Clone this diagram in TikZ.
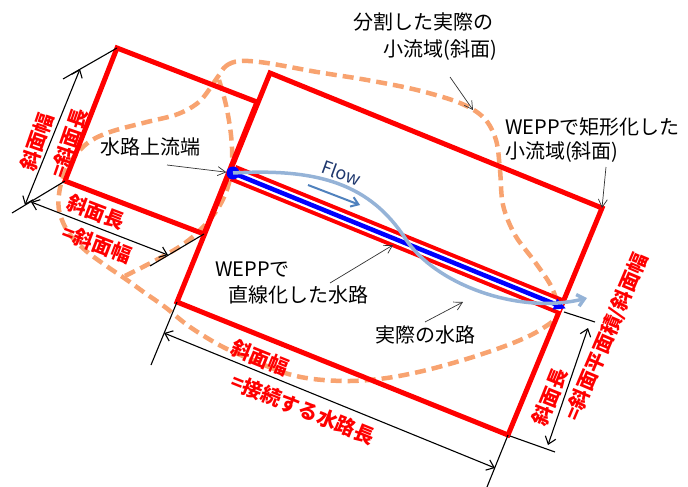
\documentclass[tikz,border=0pt]{standalone}
\usepackage{fontspec}
\setmainfont{Noto Sans CJK JP}
\usetikzlibrary{arrows.meta}
\definecolor{dashc}{RGB}{248,163,112}
\definecolor{curvec}{RGB}{149,179,215}
\definecolor{flowc}{RGB}{31,56,110}
\definecolor{flowar}{RGB}{79,129,189}
\definecolor{annc}{RGB}{50,50,50}
\begin{document}
\begin{tikzpicture}[x=1pt,y=-1pt,
  redbox/.style={draw=red,line width=5pt,line join=miter},
  dashline/.style={draw=dashc,line width=4.5pt,dash pattern=on 11pt off 6pt},
  dimline/.style={draw=black,line width=1.1pt},
  dimarrow/.style={dimline,{Straight Barb[length=7pt,width=11pt]}-{Straight Barb[length=7pt,width=11pt]}},
  annot/.style={draw=annc,line width=0.7pt,-{Straight Barb[length=8pt,width=9pt]}},
  lbl/.style={font=\fontsize{20}{22}\selectfont,inner sep=0pt},
  redlbl/.style={font=\fontsize{20}{22}\selectfont\bfseries,text=red,inner sep=0pt},
]
\useasboundingbox (0,0) rectangle (688,487);
% corners
\coordinate (A) at (270,73);
\coordinate (B) at (602,208);
\coordinate (C) at (508,435);
\coordinate (D) at (177,302);
\coordinate (P) at (117,48);
\coordinate (Q) at (257,102);
\coordinate (R) at (204,234);
\coordinate (T) at (65,181);
% dashed actual subwatershed
\draw[dashline] plot[smooth cycle, tension=0.55] coordinates {(217,78) (226,66) (240,61) (267,63) (317,72) (367,80) (417,90) (460,103) (484,118) (496,140) (500,170) (503,205) (515,235) (535,262) (552,288) (558,314) (540,330) (513,343) (473,357) (427,370) (387,378) (350,381) (313,379) (285,373) (255,361) (223,347) (190,327) (165,307) (145,293) (127,280) (105,265) (85,250) (68,232) (59,210) (60,188) (67,168) (78,152) (92,140) (113,131) (147,122) (178,114) (200,101)};
\draw[dashline] plot[smooth, tension=0.6] coordinates {(219,80) (226,105) (231,135) (232,160) (229,183) (220,205) (205,225) (185,243) (160,258) (125,276)};
% rectangles
\draw[redbox] (P) -- (Q) -- (R) -- (T) -- cycle;
\draw[redbox] (A) -- (B) -- (C) -- (D) -- cycle;
% channel
\coordinate (S) at (233,173);
\coordinate (E) at (562,307);
\coordinate (Et) at (566,308.5);
\draw[red, line width=17pt] (S) -- (E);
\draw[white, line width=9pt] (S) -- (E);
\draw[blue, line width=4.5pt, -{Triangle[length=12pt,width=11pt]}] (S) -- (Et);
\node[circle, fill=blue, inner sep=0pt, minimum size=13pt] (dot) at (S) {};
% actual channel
\coordinate (cend) at (587,298);
\draw[curvec, line width=3.5pt, -{Straight Barb[length=7pt,width=12pt]}] (dot.center) .. controls (320,168) and (370,185) .. (405,238) .. controls (435,285) and (520,315) .. (cend);
% flow
\node[font=\fontsize{18}{19}\selectfont, text=flowc, rotate=-20, inner sep=0pt] (flow) at (342,173) {Flow};
\coordinate (fa1) at (308,185);
\coordinate (fa2) at (360,205);
\draw[flowar, line width=2pt, -{Straight Barb[length=7pt,width=10pt]}] (fa1) -- (fa2);
% dimension lines
\coordinate (Pe) at (63,79);
\coordinate (Te) at (12,213);
\coordinate (Re) at (150,266);
\coordinate (De) at (151,365);
\coordinate (Ce) at (487,487);
\coordinate (Es) at (564,312);
\coordinate (Ee) at (595,322);
\coordinate (Cs) at (510,436);
\coordinate (Cr) at (555,452);
\draw[dimline] (P) -- (Pe);
\draw[dimline] (T) -- (Te);
\draw[dimline] (R) -- (Re);
\draw[dimline] (D) -- (De);
\draw[dimline] (C) -- (Ce);
\draw[dimline] (Es) -- (Ee);
\draw[dimline] (Cs) -- (Cr);
\coordinate (L1a) at (80,69);
\coordinate (L1b) at (25,205);
\coordinate (L2a) at (31,202);
\coordinate (L2b) at (168,255);
\coordinate (L3a) at (164,333);
\coordinate (L3b) at (495,468);
\coordinate (L4a) at (588,328);
\coordinate (L4b) at (548,445);
\draw[dimarrow] (L1a) -- (L1b);
\draw[dimarrow] (L2a) -- (L2b);
\draw[dimarrow] (L3a) -- (L3b);
\draw[dimarrow] (L4a) -- (L4b);
% black labels
\node[lbl] (t1) at (423,22) {分割した実際の};
\node[lbl] (t2) at (440,50) {小流域(斜面)};
\node[lbl,anchor=west] (t3) at (505,127) {WEPPで矩形化した};
\node[lbl,anchor=west] (t4) at (505,152) {小流域(斜面)};
\node[lbl,anchor=west] (t5) at (100,147) {水路上流端};
\node[lbl,anchor=west] (t6) at (215,270) {WEPPで};
\node[lbl,anchor=west] (t7) at (228,295) {直線化した水路};
\node[lbl,anchor=west] (t8) at (375,335) {実際の水路};
% red labels
\node[redlbl,rotate=71] (r1) at (37,142) {斜面幅};
\node[redlbl,rotate=71] (r2) at (69,143) {=斜面長};
\node[redlbl,rotate=-21] (r3) at (96,212) {斜面長};
\node[redlbl,rotate=-21] (r4) at (97,244) {=斜面幅};
\node[redlbl,rotate=-22] (r5) at (260,358) {斜面幅};
\node[redlbl,rotate=-22] (r6) at (303,409) {=接続する水路長};
\node[redlbl,rotate=68] (r7) at (550,397) {斜面長};
\node[redlbl,rotate=67] (r8) at (607,337) {=斜面平面積/斜面幅};
% annotation arrows
\coordinate (a1s) at (450,77);
\coordinate (a1e) at (473,110);
\coordinate (a2s) at (606,167);
\coordinate (a3s) at (167,165);
\coordinate (a4s) at (330,283);
\coordinate (a4e) at (393,245);
\coordinate (a5s) at (425,322);
\coordinate (a5e) at (463,302);
\draw[annot] (a1s) -- (a1e);
\draw[annot] (a2s) -- (B);
\draw[annot] (a3s) -- (dot);
\draw[annot] (a4s) -- (a4e);
\draw[annot] (a5s) -- (a5e);
\end{tikzpicture}
\end{document}
